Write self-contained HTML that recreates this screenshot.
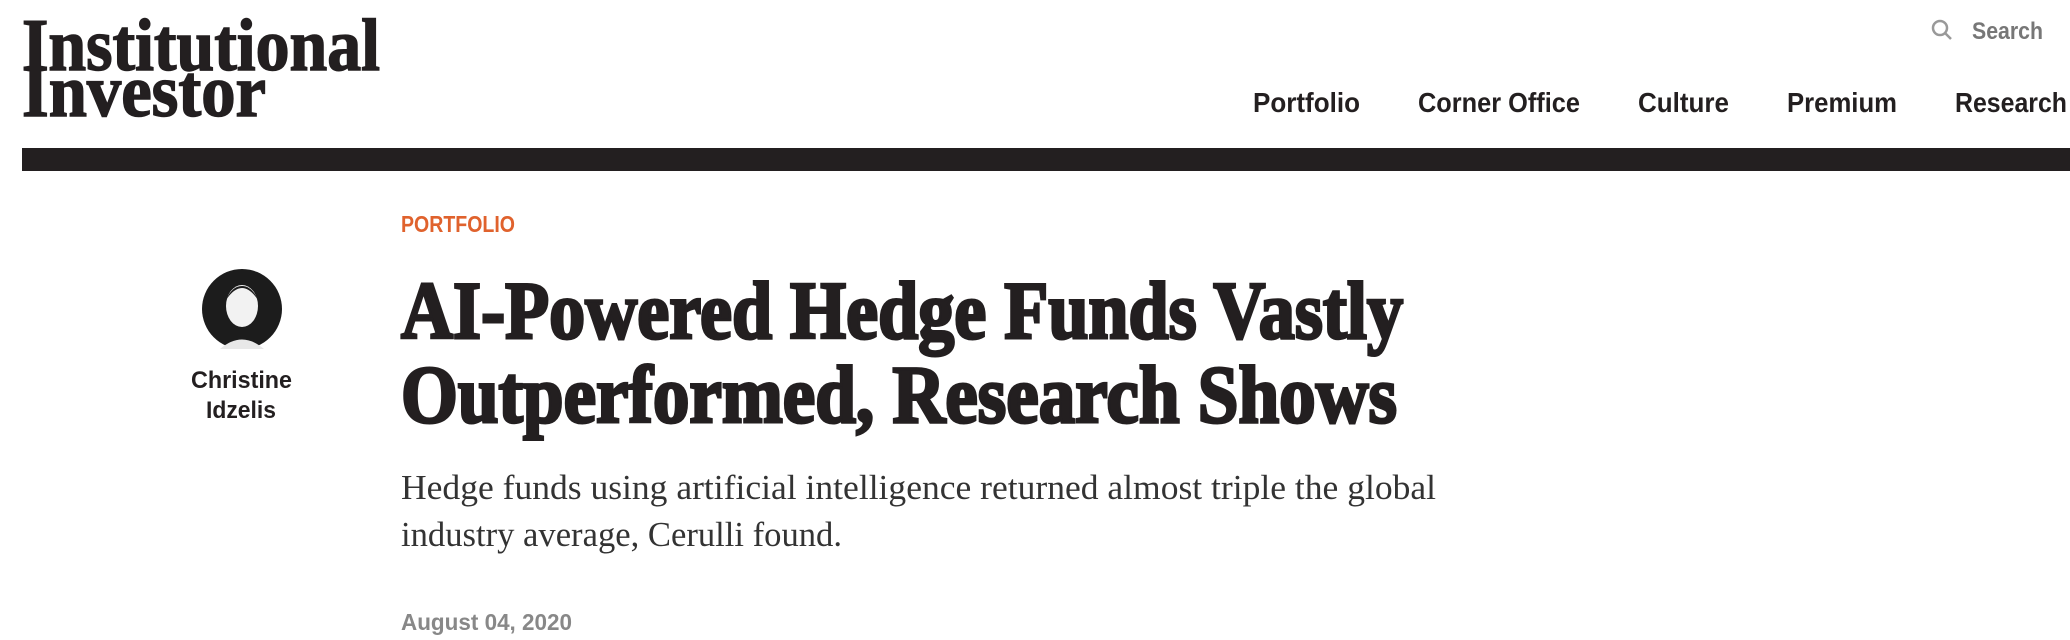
<!DOCTYPE html>
<html><head><meta charset="utf-8">
<style>
html,body{margin:0;padding:0;background:#fff;width:2070px;height:640px;overflow:hidden}
svg{display:block}
</style></head>
<body>
<svg width="2070" height="640" viewBox="0 0 2070 640" xmlns="http://www.w3.org/2000/svg">
  <g fill="#231f20" font-family="Liberation Serif, serif" font-weight="bold">
    <text x="22" y="70" font-size="74" textLength="358" lengthAdjust="spacingAndGlyphs" stroke="#231f20" stroke-width="1.5">Institutional</text>
    <text x="22" y="116" font-size="74" textLength="244" lengthAdjust="spacingAndGlyphs" stroke="#231f20" stroke-width="1.5">Investor</text>
  </g>
  <g fill="#777">
    <circle cx="1940" cy="28" r="7" fill="none" stroke="#999" stroke-width="2.5"/>
    <line x1="1945" y1="33" x2="1951" y2="39" stroke="#999" stroke-width="2.5"/>
    <text x="1972" y="39" font-family="Liberation Sans Narrow, Liberation Sans, sans-serif" font-weight="bold" font-size="24" textLength="71" lengthAdjust="spacingAndGlyphs">Search</text>
  </g>
  <g fill="#231f20" font-family="Liberation Sans Narrow, Liberation Sans, sans-serif" font-weight="bold" font-size="28">
    <text x="1253" y="112" textLength="107" lengthAdjust="spacingAndGlyphs">Portfolio</text>
    <text x="1418" y="112" textLength="162" lengthAdjust="spacingAndGlyphs">Corner Office</text>
    <text x="1638" y="112" textLength="91" lengthAdjust="spacingAndGlyphs">Culture</text>
    <text x="1787" y="112" textLength="110" lengthAdjust="spacingAndGlyphs">Premium</text>
    <text x="1955" y="112" textLength="112" lengthAdjust="spacingAndGlyphs">Research</text>
  </g>
  <rect x="22" y="148" width="2048" height="23" fill="#231f20"/>
  <text x="401" y="232" fill="#e0622d" font-family="Liberation Sans Narrow, Liberation Sans, sans-serif" font-weight="bold" font-size="23" textLength="114" lengthAdjust="spacingAndGlyphs">PORTFOLIO</text>
  <g>
    <circle cx="242" cy="309" r="40" fill="#1c1c1c"/>
    <ellipse cx="242" cy="306" rx="16" ry="21" fill="#f2f2f2"/>
    <path d="M220 349 Q242 330 264 349 Z" fill="#e8e8e8"/>
    <path d="M226 300 Q242 276 258 300 Q252 286 242 286 Q232 286 226 300Z" fill="#1c1c1c"/>
  </g>
  <g fill="#231f20" font-family="Liberation Sans Narrow, Liberation Sans, sans-serif" font-weight="bold" font-size="24" text-anchor="start">
    <text x="191" y="388" textLength="101" lengthAdjust="spacingAndGlyphs">Christine</text>
    <text x="206" y="418" textLength="70" lengthAdjust="spacingAndGlyphs">Idzelis</text>
  </g>
  <g fill="#231f20" stroke="#231f20" stroke-width="3" font-family="Liberation Serif, serif" font-weight="bold" font-size="82">
    <text x="401" y="338" textLength="1002" lengthAdjust="spacingAndGlyphs">AI-Powered Hedge Funds Vastly</text>
    <text x="401" y="422" textLength="996" lengthAdjust="spacingAndGlyphs">Outperformed, Research Shows</text>
  </g>
  <g fill="#333" font-family="Liberation Serif, serif" font-size="35">
    <text x="401" y="499" textLength="1035" lengthAdjust="spacingAndGlyphs">Hedge funds using artificial intelligence returned almost triple the global</text>
    <text x="401" y="546" textLength="441" lengthAdjust="spacingAndGlyphs">industry average, Cerulli found.</text>
  </g>
  <text x="401" y="630" fill="#888" font-family="Liberation Sans Narrow, Liberation Sans, sans-serif" font-weight="bold" font-size="23" textLength="171" lengthAdjust="spacingAndGlyphs">August 04, 2020</text>
</svg>
</body></html>
